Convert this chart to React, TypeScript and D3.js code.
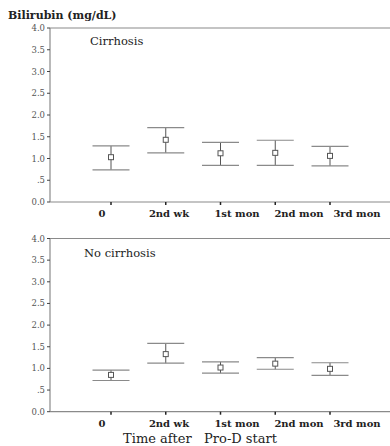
import React, { useEffect, useRef } from "react";
import * as d3 from "d3";

const categories = ["0", "2nd wk", "1st mon", "2nd mon", "3rd mon"];
const yTicks = [0, 0.5, 1, 1.5, 2, 2.5, 3, 3.5, 4];

const cirrhosisMean = [1.03, 1.43, 1.12, 1.13, 1.06];
const cirrhosisUpper = [1.29, 1.71, 1.37, 1.42, 1.28];
const cirrhosisLower = [0.74, 1.13, 0.84, 0.84, 0.83];

const noCirrhosisMean = [0.85, 1.33, 1.02, 1.11, 0.99];
const noCirrhosisUpper = [0.96, 1.58, 1.15, 1.25, 1.13];
const noCirrhosisLower = [0.72, 1.12, 0.89, 0.98, 0.84];

const SERIF = '"DejaVu Serif", "Liberation Serif", serif';

const App: React.FC = () => {
  const svgRef = useRef<SVGSVGElement | null>(null);

  useEffect(() => {
    if (!svgRef.current) return;
    const svg = d3.select(svgRef.current);
    svg.selectAll("*").remove();

    const panels = [
      { title: "Cirrhosis", mean: cirrhosisMean, upper: cirrhosisUpper, lower: cirrhosisLower, top: 28, bottom: 202, titleX: 90, titleY: 45 },
      { title: "No cirrhosis", mean: noCirrhosisMean, upper: noCirrhosisUpper, lower: noCirrhosisLower, top: 238.5, bottom: 411.7, titleX: 84, titleY: 257 },
    ];

    const left = 50;
    const right = 390;
    const x = d3.scalePoint<string>().domain(categories).range([111, 330]);
    // labels in the original sit a little to the right of their ticks
    const xLabel = d3.scaleOrdinal<string, number>().domain(categories).range([102, 169, 237, 299, 357]);

    panels.forEach((p) => {
      const y = d3.scaleLinear().domain([0, 4]).range([p.bottom, p.top]);
      const g = svg.append("g");

      // frame: top line, bottom axis, left axis
      [4, 0].forEach((v) => {
        g.append("line")
          .attr("x1", left).attr("x2", right)
          .attr("y1", y(v)).attr("y2", y(v))
          .attr("stroke", "#8a8a8a").attr("stroke-width", 1.2);
      });
      g.append("line")
        .attr("x1", left).attr("x2", left)
        .attr("y1", y(0)).attr("y2", y(4))
        .attr("stroke", "#8a8a8a").attr("stroke-width", 1.2);

      // y ticks
      yTicks.forEach((t) => {
        g.append("line")
          .attr("x1", left - 3).attr("x2", left)
          .attr("y1", y(t)).attr("y2", y(t))
          .attr("stroke", "#444");
        g.append("text")
          .attr("x", left - 5)
          .attr("y", y(t) + 3)
          .attr("text-anchor", "end")
          .style("font-family", SERIF)
          .attr("font-size", 8.5)
          .attr("fill", "#555")
          .text(t === 0.5 ? ".5" : t.toFixed(1));
      });

      // x ticks and labels
      categories.forEach((c) => {
        g.append("line")
          .attr("x1", x(c)!).attr("x2", x(c)!)
          .attr("y1", y(0)).attr("y2", y(0) + 3)
          .attr("stroke", "#222").attr("stroke-width", 1.5);
        g.append("text")
          .attr("x", xLabel(c))
          .attr("y", y(0) + 15)
          .attr("text-anchor", "middle")
          .style("font-family", SERIF)
          .attr("font-weight", "bold")
          .attr("font-size", 10)
          .attr("fill", "#222")
          .text(c);
      });

      // panel title
      g.append("text")
        .attr("x", p.titleX)
        .attr("y", p.titleY)
        .style("font-family", SERIF)
        .attr("font-size", 11.5)
        .attr("fill", "#222")
        .text(p.title);

      // error bars
      const capHalf = 18.5;
      categories.forEach((c, i) => {
        const cx = x(c)!;
        g.append("line")
          .attr("x1", cx).attr("x2", cx)
          .attr("y1", y(p.upper[i])).attr("y2", y(p.lower[i]))
          .attr("stroke", "#555").attr("stroke-width", 1);
        [p.upper[i], p.lower[i]].forEach((v) => {
          g.append("line")
            .attr("x1", cx - capHalf).attr("x2", cx + capHalf)
            .attr("y1", y(v)).attr("y2", y(v))
            .attr("stroke", "#8a8a8a").attr("stroke-width", 1.2);
        });
        g.append("rect")
          .attr("x", cx - 2.5).attr("y", y(p.mean[i]) - 2.5)
          .attr("width", 5).attr("height", 5)
          .attr("fill", "white")
          .attr("stroke", "#555").attr("stroke-width", 1);
      });
    });

    // y axis title
    svg.append("text")
      .attr("x", 8)
      .attr("y", 19)
      .style("font-family", SERIF)
      .attr("font-weight", "bold")
      .attr("font-size", 11)
      .attr("fill", "#222")
      .text("Bilirubin (mg/dL)");

    // x axis title
    svg.append("text")
      .attr("x", 200)
      .attr("y", 443)
      .attr("text-anchor", "middle")
      .style("font-family", SERIF)
      .attr("font-size", 13)
      .attr("fill", "#222")
      .style("white-space", "pre")
      .text("Time after   Pro-D start");
  }, []);

  return (
    <svg
      ref={svgRef}
      width={390}
      height={446}
      style={{ position: "absolute", left: 0, top: 0, background: "white" }}
    ></svg>
  );
};

export default App;
